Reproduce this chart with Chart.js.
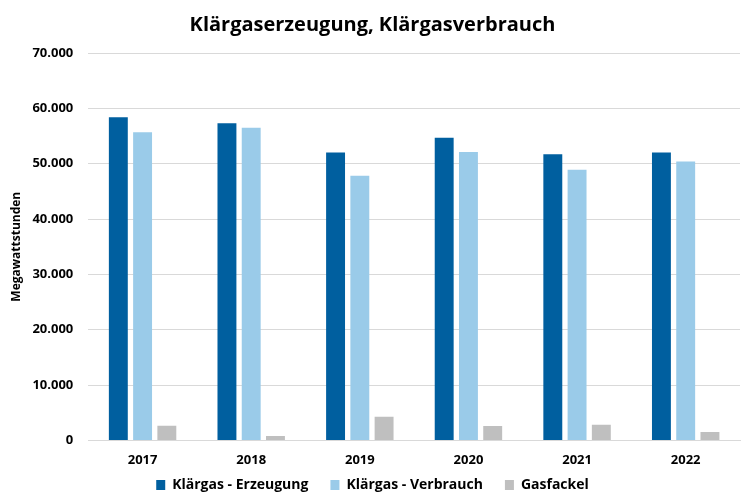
<!DOCTYPE html>
<html>
<head>
<meta charset="utf-8">
<script src="https://cdn.jsdelivr.net/npm/chart.js@4"></script>
<style>
  html, body { margin: 0; padding: 0; background: #fff; }
  #wrap { width: 742px; height: 492px; }
</style>
</head>
<body>
<div id="wrap"><canvas id="chartCanvas" width="742" height="492"></canvas></div>
<script>
// ---------- Data ----------
const years = ["2017", "2018", "2019", "2020", "2021", "2022"];
const erzeugung = [58400, 57300, 52000, 54700, 51700, 52000];
const verbrauch = [55700, 56500, 47800, 52100, 48900, 50400];
const gasfackel = [2650, 780, 4270, 2580, 2820, 1500];
const yTicks = [0, 10000, 20000, 30000, 40000, 50000, 60000, 70000];

const FONT = "'Open Sans', 'Liberation Sans', sans-serif";

// thousands with a dot, as in the original
function fmt(v) {
    return String(v).replace(/\B(?=(\d{3})+(?!\d))/g, ".");
}

// legend sits tighter under the axis than chart.js would put it
const legendShrink = 34;
const legendLift = 24;
const tightLegend = {
    id: "tightLegend",
    beforeInit(chart) {
        const leg = chart.legend;
        if (!leg) return;
        const origFit = leg.fit;
        leg.fit = function () {
            origFit.call(this);
            this.height -= legendShrink;
        };
    },
    afterLayout(chart) {
        const leg = chart.legend;
        if (leg) leg.top -= legendLift;
    }
};

const ctx = document.getElementById("chartCanvas").getContext("2d");

new Chart(ctx, {
    type: "bar",
    data: {
        labels: years,
        datasets: [
            { label: "Klärgas - Erzeugung", data: erzeugung, backgroundColor: "#005f9f" },
            { label: "Klärgas - Verbrauch", data: verbrauch, backgroundColor: "#9acbe9" },
            { label: "Gasfackel", data: gasfackel, backgroundColor: "#bfbfbf" }
        ]
    },
    plugins: [tightLegend],
    options: {
        responsive: false,
        animation: false,
        layout: { padding: { left: 5, right: 2, top: 4, bottom: 0 } },
        datasets: {
            bar: { categoryPercentage: 0.67, barPercentage: 0.78 }
        },
        plugins: {
            title: {
                display: true,
                text: "Klärgaserzeugung, Klärgasverbrauch",
                color: "#000",
                font: { family: FONT, size: 20, weight: "bold" },
                padding: { top: 9, bottom: 16 }
            },
            legend: {
                position: "bottom",
                labels: {
                    color: "#000",
                    boxWidth: 9,
                    boxHeight: 10,
                    padding: 22,
                    font: { family: FONT, size: 14, weight: "bold" }
                }
            },
            tooltip: { enabled: false }
        },
        scales: {
            x: {
                grid: { display: false, drawTicks: false },
                border: { color: "#d9d9d9", width: 1 },
                ticks: {
                    color: "#000",
                    padding: 12,
                    font: { family: FONT, size: 13, weight: "bold" }
                }
            },
            y: {
                min: 0,
                max: 70000,
                afterBuildTicks: axis => { axis.ticks = yTicks.map(v => ({ value: v })); },
                grid: { color: "#d9d9d9", lineWidth: 1, drawTicks: false },
                border: { display: false },
                title: {
                    display: true,
                    text: "Megawattstunden",
                    color: "#000",
                    font: { family: FONT, size: 12, weight: "bold" },
                    padding: { top: 4, bottom: -6 }
                },
                ticks: {
                    color: "#000",
                    padding: 15,
                    font: { family: FONT, size: 13, weight: "bold" },
                    callback: v => fmt(v)
                }
            }
        }
    }
});
</script>
</body>
</html>
